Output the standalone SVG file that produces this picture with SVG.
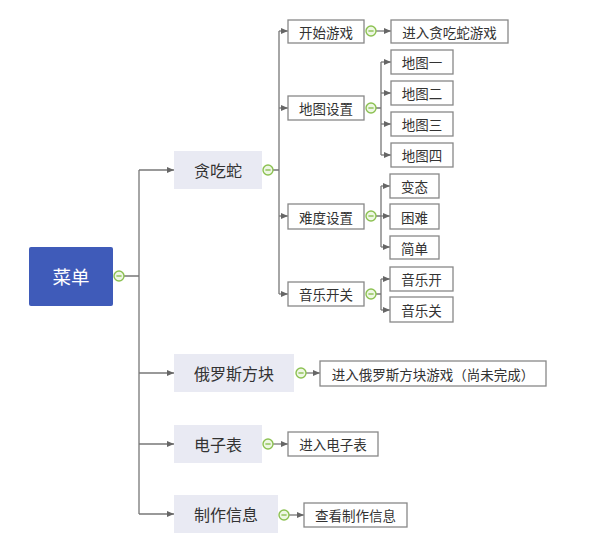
<svg xmlns="http://www.w3.org/2000/svg" width="591" height="552" viewBox="0 0 591 552">
<defs>
<marker id="ah" markerWidth="7" markerHeight="6" refX="7" refY="3" orient="auto" markerUnits="userSpaceOnUse"><path d="M0,0 L7,3 L0,6 Z" fill="#666"/></marker>
<g id="col"><circle r="5" fill="#eef7e4" stroke="#8cc152" stroke-width="1.4"/><line x1="-2.6" y1="0" x2="2.6" y2="0" stroke="#8cc152" stroke-width="1.4"/></g>
</defs>
<style>
.c{fill:none;stroke:#777;stroke-width:1.3}
.a{fill:none;stroke:#777;stroke-width:1.3;marker-end:url(#ah)}
.b{fill:#fff;stroke:#888;stroke-width:1.3}
.g{fill:#e9eaf3;stroke:none}
.t{font-family:"Noto Sans CJK SC","Liberation Sans",sans-serif;fill:#333;text-anchor:middle;dominant-baseline:central}
.s{font-size:13.5px}
.m{font-size:16px}
</style>
<rect width="591" height="552" fill="#fff"/>
<g id="connectors">
<path class="c" d="M124,276 H139 M139,170 V514"/>
<path class="a" d="M139,170 H174"/>
<path class="a" d="M139,373 H174"/>
<path class="a" d="M139,444 H174"/>
<path class="a" d="M139,514 H174"/>
<path class="c" d="M273,170 H279 M279,31 V294"/>
<path class="a" d="M279,31 H288"/>
<path class="a" d="M279,108 H288"/>
<path class="a" d="M279,216 H288"/>
<path class="a" d="M279,294 H288"/>
<path class="a" d="M376,31 H391"/>
<path class="c" d="M376,108 H381 M381,62 V155"/>
<path class="a" d="M381,62 H391"/>
<path class="a" d="M381,93 H391"/>
<path class="a" d="M381,124 H391"/>
<path class="a" d="M381,155 H391"/>
<path class="c" d="M376,216 H381 M381,186 V247"/>
<path class="a" d="M381,186 H390"/>
<path class="a" d="M381,216 H390"/>
<path class="a" d="M381,247 H390"/>
<path class="c" d="M376,294 H381 M381,279 V310"/>
<path class="a" d="M381,279 H390"/>
<path class="a" d="M381,310 H390"/>
<path class="a" d="M306,373 H320"/>
<path class="a" d="M273,444 H288"/>
<path class="a" d="M289,515 H304"/>
</g>
<g id="root"><rect x="29" y="247" width="84" height="59" rx="2" fill="#3f5bb9"/><text class="t" x="71" y="276" font-size="18.5" style="fill:#fff">菜单</text><use href="#col" x="119" y="276"/></g>
<g id="n-snake"><rect class="g" x="174" y="151" width="88" height="38"/><text class="t m" x="218" y="170">贪吃蛇</text><use href="#col" x="268" y="170"/></g>
<g id="n-tetris"><rect class="g" x="174" y="354" width="120" height="38"/><text class="t m" x="234" y="373">俄罗斯方块</text><use href="#col" x="301" y="373"/></g>
<g id="n-clock"><rect class="g" x="174" y="425" width="88" height="38"/><text class="t m" x="218" y="444">电子表</text><use href="#col" x="268" y="444"/></g>
<g id="n-info"><rect class="g" x="174" y="495" width="104" height="38"/><text class="t m" x="226" y="514">制作信息</text><use href="#col" x="284" y="515"/></g>
<g id="n-start"><rect class="b" x="288" y="20" width="76" height="23"/><text class="t s" x="326" y="31.5">开始游戏</text><use href="#col" x="371" y="31"/></g>
<g id="n-enter-snake"><rect class="b" x="391" y="20" width="117" height="23"/><text class="t s" x="449.5" y="31.5">进入贪吃蛇游戏</text></g>
<g id="n-map"><rect class="b" x="288" y="96" width="76" height="24"/><text class="t s" x="326" y="108">地图设置</text><use href="#col" x="371" y="108"/></g>
<g id="n-map1"><rect class="b" x="391" y="50" width="62" height="24"/><text class="t s" x="422" y="62">地图一</text></g>
<g id="n-map2"><rect class="b" x="391" y="81" width="62" height="24"/><text class="t s" x="422" y="93">地图二</text></g>
<g id="n-map3"><rect class="b" x="391" y="112" width="62" height="24"/><text class="t s" x="422" y="124">地图三</text></g>
<g id="n-map4"><rect class="b" x="391" y="143" width="62" height="24"/><text class="t s" x="422" y="155">地图四</text></g>
<g id="n-diff"><rect class="b" x="288" y="204" width="76" height="25"/><text class="t s" x="326" y="216.5">难度设置</text><use href="#col" x="371" y="216"/></g>
<g id="n-d1"><rect class="b" x="390" y="174" width="49" height="24"/><text class="t s" x="414.5" y="186">变态</text></g>
<g id="n-d2"><rect class="b" x="390" y="204" width="49" height="25"/><text class="t s" x="414.5" y="216.5">困难</text></g>
<g id="n-d3"><rect class="b" x="390" y="236" width="49" height="23"/><text class="t s" x="414.5" y="247.5">简单</text></g>
<g id="n-music"><rect class="b" x="288" y="282" width="76" height="24"/><text class="t s" x="326" y="294">音乐开关</text><use href="#col" x="371" y="294"/></g>
<g id="n-on"><rect class="b" x="390" y="267" width="63" height="24"/><text class="t s" x="421.5" y="279">音乐开</text></g>
<g id="n-off"><rect class="b" x="390" y="297" width="63" height="25"/><text class="t s" x="421.5" y="309.5">音乐关</text></g>
<g id="n-enter-tetris"><rect class="b" x="320" y="361" width="226" height="25"/><text class="t s" x="433" y="373.5">进入俄罗斯方块游戏（尚未完成）</text></g>
<g id="n-enter-clock"><rect class="b" x="288" y="432" width="90" height="24"/><text class="t s" x="333" y="444">进入电子表</text></g>
<g id="n-view-info"><rect class="b" x="304" y="503" width="103" height="24"/><text class="t s" x="355.5" y="515">查看制作信息</text></g>
</svg>
